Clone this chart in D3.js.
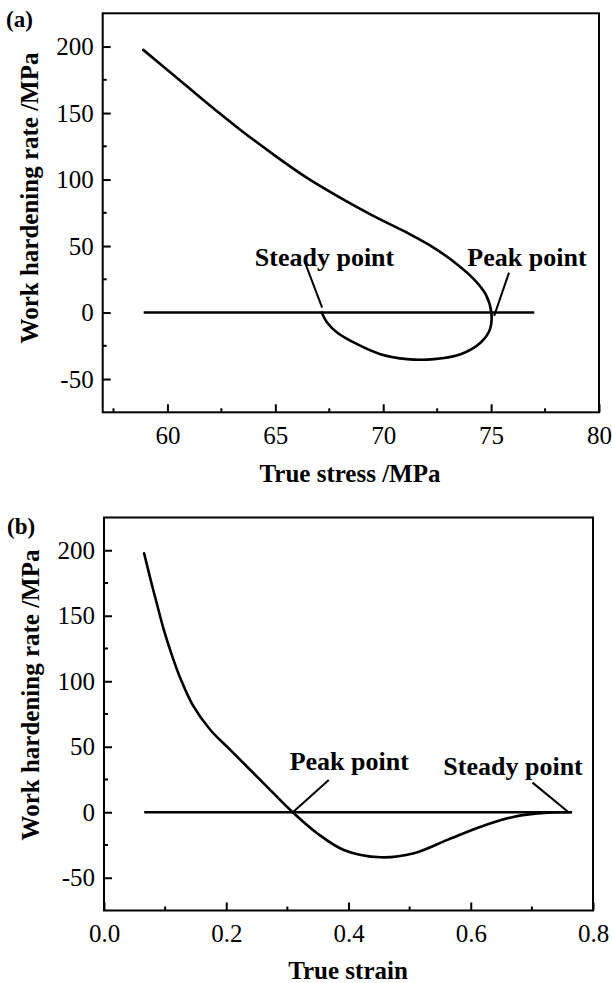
<!DOCTYPE html>
<html>
  <head>
    <meta charset="utf-8" />
    <script src="https://d3js.org/d3.v7.min.js"></script>
    <style>
      body { margin: 0; background: #fff; }
      text { font-family: "Liberation Serif", "Times New Roman", serif; fill: #000; }
      .tick-label { font-size: 25px; }
      .title { font-size: 25px; font-weight: bold; }
      .note { font-size: 26px; font-weight: bold; }
      .frame { fill: none; stroke: #000; stroke-width: 2px; }
      .curve { fill: none; stroke: #000; stroke-width: 2.6px; stroke-linejoin: round; stroke-linecap: round; }
      .zero { stroke: #000; stroke-width: 2.6px; }
      .leader { stroke: #000; stroke-width: 2px; }
    </style>
  </head>
  <body>

    <svg id="chart" width="612" height="983"></svg>

    <script>

      // (a) work hardening rate vs true stress
      var stressA = [58.88, 60.28, 61.83, 63.37, 64.92, 66.47, 68.02, 69.56, 71.11, 72.35,
                     73.43, 74.21, 74.75, 75.01, 74.95, 74.52, 73.59, 72.35, 71.11, 69.87,
                     68.79, 67.86, 67.40, 67.15];
      var rateA   = [197.5, 178.7, 157.5, 137.5, 118.7, 101.2, 86.2, 72.5, 60.0, 48.7,
                     36.2, 25.0, 13.7, 0, -12.5, -22.5, -31.3, -35.0, -35.0, -31.3,
                     -23.8, -15.0, -7.5, 0];
      var zeroA = [58.9, 77.0];

      // (b) work hardening rate vs true strain
      var strainB = [0.0656, 0.0760, 0.0860, 0.0980, 0.1110, 0.1260, 0.1450, 0.1738, 0.2066,
                     0.2612, 0.3087, 0.3487, 0.3923, 0.4525, 0.5071, 0.5618, 0.6164, 0.6710,
                     0.7257, 0.7639];
      var rateB   = [197.7, 178.0, 160.0, 139.0, 120.0, 101.0, 82.0, 63.0, 47.6,
                     22.1, 0, -16.0, -28.8, -34.4, -31.3, -21.1, -11.0, -3.4,
                     -0.3, 0];
      var zeroB = [0.0658, 0.765];

      var yTicks = [-50, 0, 50, 100, 150, 200];
      var xTicksA = [60, 65, 70, 75, 80];
      var xTicksB = [0, 0.2, 0.4, 0.6, 0.8];

      // annotations: text anchor point and leader line, in data units
      var notesA = [
        { text: "Steady point", x: 64.05, y: 35.0, from: [66.35, 38.7], to: [67.17, 3.7] },
        { text: "Peak point",   x: 73.90, y: 35.0, from: [75.83, 30.0], to: [75.14, -2.5] }
      ];
      var notesB = [
        { text: "Peak point",   x: 0.3038, y: 32.0, from: [0.3677, 24.7], to: [0.3103, 0.5] },
        { text: "Steady point", x: 0.5552, y: 28.5, from: [0.7011, 22.6], to: [0.7585, 0.5] }
      ];

      var svg = d3.select("#chart");

      function drawPanel(p) {
        var x = d3.scaleLinear().domain(p.xDomain).range([p.left, p.right]);
        var y = d3.scaleLinear().domain([-75, 225]).range([p.bottom, p.top]);
        var g = svg.append("g");

        g.append("rect").attr("class", "frame")
          .attr("x", p.left).attr("y", p.top)
          .attr("width", p.right - p.left).attr("height", p.bottom - p.top);

        // bottom axis, ticks pointing inward
        var xAxis = d3.axisBottom(x).tickValues(p.xTicks).tickSize(-8).tickPadding(14)
          .tickFormat(p.xFormat);
        var gx = g.append("g").attr("transform", "translate(0," + p.bottom + ")").call(xAxis);
        gx.append("g").attr("class", "minor").selectAll("line").data(p.xMinor).enter().append("line")
          .attr("x1", function(d) { return x(d); }).attr("x2", function(d) { return x(d); })
          .attr("y1", 0).attr("y2", -4);

        var yAxis = d3.axisLeft(y).tickValues(yTicks).tickSize(-8).tickPadding(9)
          .tickFormat(function(d) { return String(d); });
        var gy = g.append("g").attr("transform", "translate(" + p.left + ",0)").call(yAxis);
        gy.append("g").attr("class", "minor").selectAll("line").data([-25, 25, 75, 125, 175]).enter().append("line")
          .attr("y1", function(d) { return y(d); }).attr("y2", function(d) { return y(d); })
          .attr("x1", 0).attr("x2", 4);

        g.selectAll(".domain").remove();
        g.selectAll(".tick line, .minor line").attr("stroke", "#000").attr("stroke-width", 2);
        g.selectAll(".tick text").attr("class", "tick-label").attr("fill", "#000");
        gx.attr("font-family", null).attr("font-size", null);
        gy.attr("font-family", null).attr("font-size", null);

        // zero reference line
        g.append("line").attr("class", "zero")
          .attr("x1", x(p.zero[0])).attr("x2", x(p.zero[1]))
          .attr("y1", y(0)).attr("y2", y(0));

        var pts = p.xs.map(function(v, i) { return [v, p.ys[i]]; });
        var line = d3.line()
          .x(function(d) { return x(d[0]); })
          .y(function(d) { return y(d[1]); })
          .curve(d3.curveCatmullRom.alpha(0.5));
        g.append("path").attr("class", "curve").attr("d", line(pts));

        p.notes.forEach(function(n) {
          g.append("line").attr("class", "leader")
            .attr("x1", x(n.from[0])).attr("y1", y(n.from[1]))
            .attr("x2", x(n.to[0])).attr("y2", y(n.to[1]));
          g.append("text").attr("class", "note")
            .attr("x", x(n.x)).attr("y", y(n.y)).text(n.text);
        });

        g.append("text").attr("class", "title").attr("text-anchor", "middle")
          .attr("transform", "translate(" + p.yTitlePos[0] + "," + p.yTitlePos[1] + ") rotate(-90)")
          .text("Work hardening rate /MPa");
        g.append("text").attr("class", "title").attr("text-anchor", "middle")
          .attr("x", p.xTitlePos[0]).attr("y", p.xTitlePos[1]).text(p.xTitle);
        g.append("text").attr("class", "title").style("font-size", "23px")
          .attr("x", p.tagPos[0]).attr("y", p.tagPos[1]).text(p.tag);
      }

      drawPanel({
        left: 102.7, right: 599, top: 13.3, bottom: 412.3,
        xDomain: [57, 80], xTicks: xTicksA, xMinor: [57.5, 62.5, 67.5, 72.5, 77.5],
        xFormat: d3.format("d"),
        xs: stressA, ys: rateA, zero: zeroA, notes: notesA,
        xTitle: "True stress /MPa", xTitlePos: [350, 482], yTitlePos: [38, 198],
        tag: "(a)", tagPos: [6, 27]
      });

      drawPanel({
        left: 104, right: 593, top: 517.5, bottom: 910.5,
        xDomain: [0, 0.8], xTicks: xTicksB, xMinor: [0.1, 0.3, 0.5, 0.7],
        xFormat: d3.format(".1f"),
        xs: strainB, ys: rateB, zero: zeroB, notes: notesB,
        xTitle: "True strain", xTitlePos: [348, 979], yTitlePos: [39, 695],
        tag: "(b)", tagPos: [7, 534]
      });

    </script>

  </body>
</html>
